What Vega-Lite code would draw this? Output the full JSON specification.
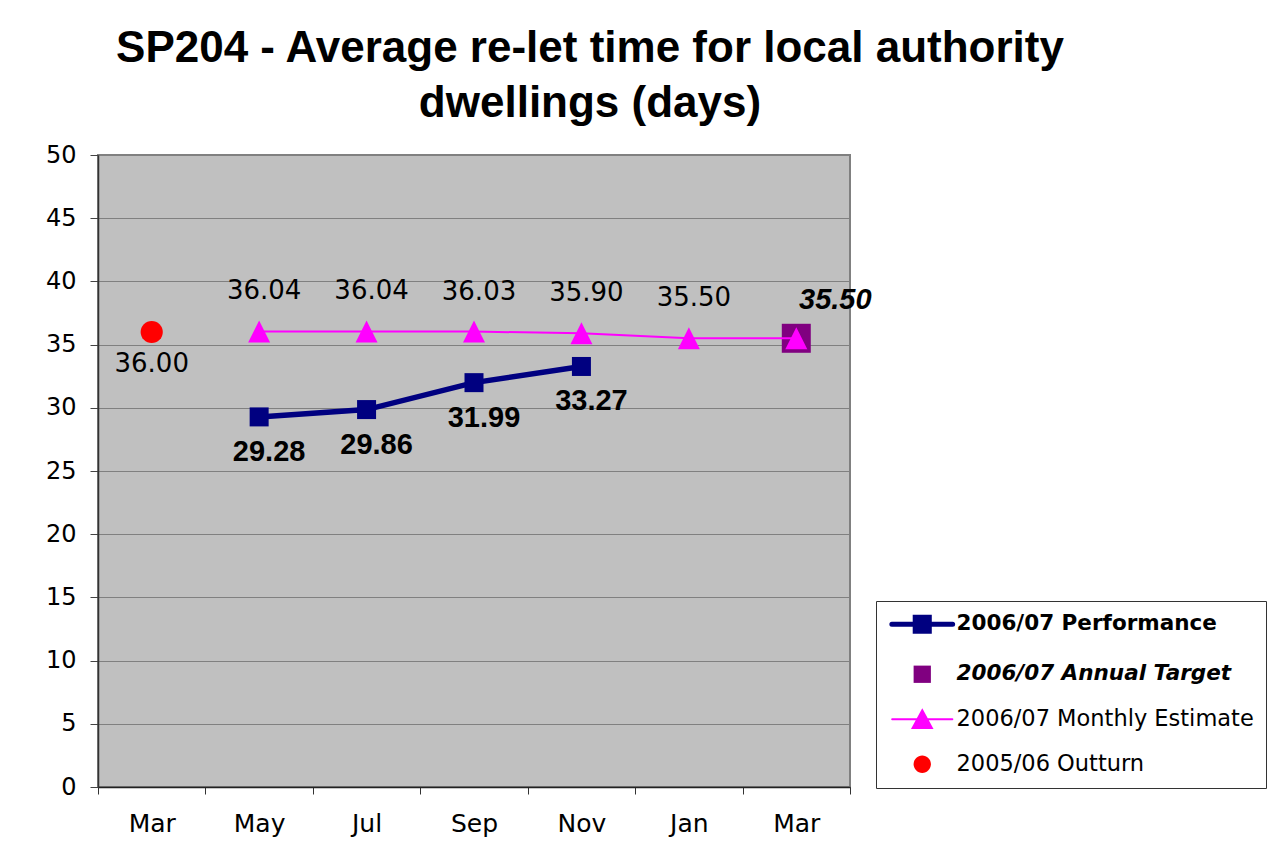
{
  "$schema": "https://vega.github.io/schema/vega-lite/v6.json",
  "autosize": {"type": "none"},
  "padding": {"left": 98, "top": 155, "right": 424, "bottom": 56},
  "width": 752,
  "height": 632,
  "background": "white",
  "title": {
    "text": ["SP204 - Average re-let time for local authority", "dwellings (days)"],
    "font": "Liberation Sans",
    "fontSize": 44,
    "fontWeight": "bold",
    "color": "black",
    "anchor": "middle",
    "frame": "group",
    "dx": 116,
    "offset": 17,
    "lineHeight": 55
  },
  "config": {
    "view": {"stroke": "#808080", "strokeWidth": 2, "fill": "#C0C0C0"},
    "font": "DejaVu Sans"
  },
  "data": {
    "values": [
      {"m": "Mar 2006", "s": "2005/06 Outturn", "v": 36.00},
      {"m": "May 2006", "s": "2006/07 Performance", "v": 29.28},
      {"m": "Jul 2006", "s": "2006/07 Performance", "v": 29.86},
      {"m": "Sep 2006", "s": "2006/07 Performance", "v": 31.99},
      {"m": "Nov 2006", "s": "2006/07 Performance", "v": 33.27},
      {"m": "May 2006", "s": "2006/07 Monthly Estimate", "v": 36.04},
      {"m": "Jul 2006", "s": "2006/07 Monthly Estimate", "v": 36.04},
      {"m": "Sep 2006", "s": "2006/07 Monthly Estimate", "v": 36.03},
      {"m": "Nov 2006", "s": "2006/07 Monthly Estimate", "v": 35.90},
      {"m": "Jan 2007", "s": "2006/07 Monthly Estimate", "v": 35.50},
      {"m": "Mar 2007", "s": "2006/07 Monthly Estimate", "v": 35.50},
      {"m": "Mar 2007", "s": "2006/07 Annual Target", "v": 35.50}
    ]
  },
  "encoding": {
    "x": {
      "field": "m",
      "type": "ordinal",
      "scale": {
        "type": "band",
        "domain": ["Mar 2006", "May 2006", "Jul 2006", "Sep 2006", "Nov 2006", "Jan 2007", "Mar 2007"],
        "paddingInner": 0,
        "paddingOuter": 0
      },
      "axis": {
        "title": null,
        "labelExpr": "datum.value ? substring(datum.value, 0, 3) : ''",
        "labelAngle": 0,
        "labelFont": "DejaVu Sans",
        "labelFontSize": 25,
        "labelColor": "black",
        "labelPadding": 17,
        "tickBand": "extent",
        "tickSize": 7,
        "tickColor": "#333333",
        "domainColor": "#222222",
        "domainWidth": 1.5,
        "grid": false
      }
    },
    "y": {
      "field": "v",
      "type": "quantitative",
      "scale": {"domain": [0, 50], "nice": false, "zero": true},
      "axis": {
        "title": null,
        "values": [0, 5, 10, 15, 20, 25, 30, 35, 40, 45, 50],
        "labelFont": "DejaVu Sans",
        "labelFontSize": 24,
        "labelColor": "black",
        "labelPadding": 14,
        "tickSize": 8,
        "tickColor": "#444444",
        "domainColor": "#333333",
        "domainWidth": 1.5,
        "grid": true,
        "gridColor": "#808080",
        "gridWidth": 1
      }
    }
  },
  "layer": [
    {
      "mark": {"type": "point", "opacity": 0, "filled": true},
      "encoding": {
        "color": {
          "field": "s",
          "type": "nominal",
          "scale": {
            "domain": ["2006/07 Performance", "2006/07 Annual Target", "2006/07 Monthly Estimate", "2005/06 Outturn"],
            "range": ["#000080", "#800080", "#FF00FF", "#FF0000"]
          },
          "legend": {
            "title": null,
            "orient": "none",
            "legendX": 778,
            "legendY": 446,
            "direction": "vertical",
            "padding": 12,
            "strokeColor": "#333333",
            "fillColor": "white",
            "symbolSize": 4096,
            "symbolOpacity": 1,
            "symbolOffset": 23,
            "labelFont": "DejaVu Sans",
            "labelFontSize": 22.5,
            "labelColor": "black",
            "labelOffset": 23,
            "labelLimit": 400,
            "rowPadding": 21,
            "encode": {
              "symbols": {
                "update": {
                  "opacity": {"value": 1},
                  "fillOpacity": {"value": 1},
                  "strokeOpacity": {"value": 1},
                  "stroke": {"signal": "datum.value == '2006/07 Performance' ? '#000080' : datum.value == '2006/07 Monthly Estimate' ? '#FF00FF' : 'transparent'"},
                  "strokeWidth": {"signal": "datum.value == '2006/07 Performance' ? 5 : datum.value == '2006/07 Monthly Estimate' ? 2 : 0"},
                  "strokeCap": {"value": "round"}
                }
              },
              "labels": {
                "update": {
                  "fontWeight": {"signal": "datum.value == '2006/07 Performance' || datum.value == '2006/07 Annual Target' ? 'bold' : 'normal'"},
                  "fontStyle": {"signal": "datum.value == '2006/07 Annual Target' ? 'italic' : 'normal'"},
                  "fontSize": {"signal": "datum.value == '2006/07 Performance' || datum.value == '2006/07 Annual Target' ? 21.5 : 22.5"}
                }
              }
            }
          }
        },
        "shape": {
          "field": "s",
          "type": "nominal",
          "scale": {
            "domain": ["2006/07 Performance", "2006/07 Annual Target", "2006/07 Monthly Estimate", "2005/06 Outturn"],
            "range": [
              "M-0.95,0L0.95,0M-0.22,-0.22L0.22,-0.22L0.22,0.22L-0.22,0.22Z",
              "M-0.27,-0.27L0.27,-0.27L0.27,0.27L-0.27,0.27Z",
              "M-0.94,0L0.94,0M0,-0.28L0.3,0.27L-0.3,0.27Z",
              "M0.27,0A0.27,0.27,0,1,1,-0.27,0A0.27,0.27,0,1,1,0.27,0Z"
            ]
          }
        }
      }
    },
    {
      "transform": [{"filter": "datum.s == '2006/07 Annual Target'"}],
      "mark": {"type": "point", "shape": "square", "filled": true, "opacity": 1, "color": "#800080", "size": 841},
      "encoding": {}
    },
    {
      "transform": [{"filter": "datum.s == '2006/07 Monthly Estimate'"}],
      "mark": {"type": "line", "color": "#FF00FF", "strokeWidth": 2},
      "encoding": {}
    },
    {
      "transform": [{"filter": "datum.s == '2006/07 Monthly Estimate'"}],
      "mark": {"type": "point", "shape": "M0,-1L1,1L-1,1Z", "filled": true, "opacity": 1, "color": "#FF00FF", "size": 484},
      "encoding": {}
    },
    {
      "transform": [{"filter": "datum.s == '2006/07 Performance'"}],
      "mark": {"type": "line", "color": "#000080", "strokeWidth": 5.5},
      "encoding": {}
    },
    {
      "transform": [{"filter": "datum.s == '2006/07 Performance'"}],
      "mark": {"type": "point", "shape": "square", "filled": true, "opacity": 1, "color": "#000080", "size": 361},
      "encoding": {}
    },
    {
      "transform": [{"filter": "datum.s == '2005/06 Outturn'"}],
      "mark": {"type": "point", "shape": "circle", "filled": true, "opacity": 1, "color": "#FF0000", "size": 491},
      "encoding": {}
    },
    {
      "transform": [{"filter": "datum.s == '2006/07 Performance'"}],
      "mark": {"type": "text", "font": "Liberation Sans", "fontSize": 29, "fontWeight": "bold", "color": "black", "dx": 10, "dy": 35},
      "encoding": {"text": {"field": "v", "type": "quantitative", "format": ".2f"}}
    },
    {
      "transform": [{"filter": "datum.s == '2006/07 Monthly Estimate' && datum.m != 'Mar 2007'"}],
      "mark": {"type": "text", "font": "DejaVu Sans", "fontSize": 26, "color": "black", "dx": 5, "dy": -40},
      "encoding": {"text": {"field": "v", "type": "quantitative", "format": ".2f"}}
    },
    {
      "transform": [{"filter": "datum.s == '2005/06 Outturn'"}],
      "mark": {"type": "text", "font": "DejaVu Sans", "fontSize": 26, "color": "black", "dy": 32},
      "encoding": {"text": {"field": "v", "type": "quantitative", "format": ".2f"}}
    },
    {
      "transform": [{"filter": "datum.s == '2006/07 Annual Target'"}],
      "mark": {"type": "text", "font": "Liberation Sans", "fontSize": 29, "fontWeight": "bold", "fontStyle": "italic", "color": "black", "dx": 39, "dy": -38},
      "encoding": {"text": {"field": "v", "type": "quantitative", "format": ".2f"}}
    }
  ]
}
